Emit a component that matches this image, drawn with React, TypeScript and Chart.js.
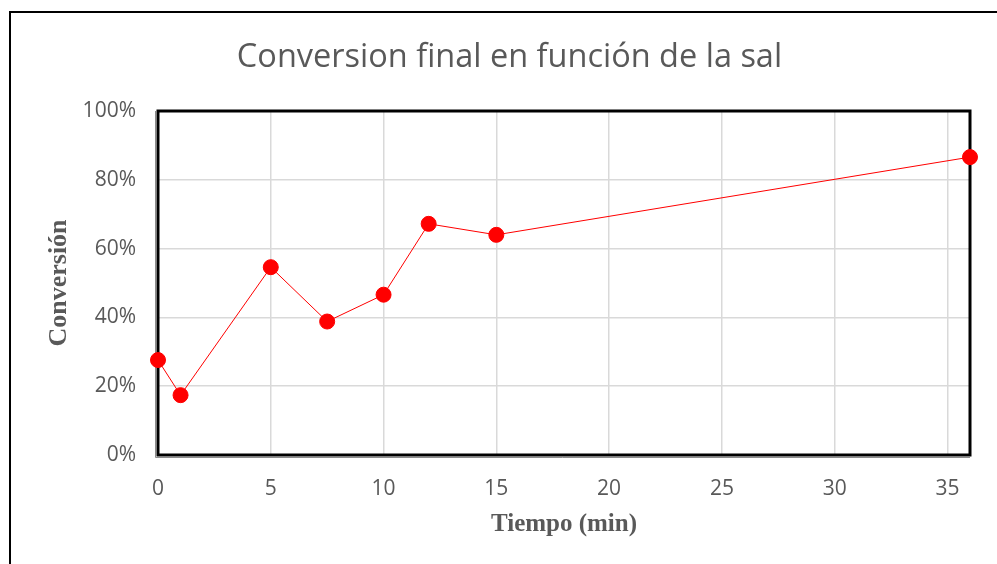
import React, { useEffect, useRef } from "react";
import { Chart, registerables } from "chart.js";

Chart.register(...registerables);

const TITLE = "Conversion final en función de la sal";
const X_TITLE = "Tiempo (min)";
const Y_TITLE = "Conversión";
const tiempo = [0, 1, 5, 7.5, 10, 12, 15, 36];
const conversion = [27.6, 17.4, 54.6, 38.8, 46.6, 67.2, 64.0, 86.6];
const X_MIN = 0;
const X_MAX = 36;
const X_STEP = 5;
const Y_MIN = 0;
const Y_MAX = 100;
const Y_STEP = 20;

const GRAY = "#595959";

const framePlugin = {
  id: "framePlugin",
  beforeDraw(chart: any) {
    const { ctx } = chart;
    ctx.save();
    ctx.fillStyle = "#ffffff";
    ctx.fillRect(0, 0, chart.width, chart.height);
    ctx.strokeStyle = "#000000";
    ctx.lineWidth = 2;
    ctx.beginPath();
    ctx.moveTo(10, chart.height + 5);
    ctx.lineTo(10, 12);
    ctx.lineTo(chart.width + 5, 12);
    ctx.stroke();
    ctx.restore();
  },
  beforeDatasetsDraw(chart: any) {
    const { ctx, chartArea: a } = chart;
    ctx.save();
    ctx.strokeStyle = "#8c8c8c";
    ctx.lineWidth = 1;
    ctx.beginPath();
    ctx.moveTo(a.left - 2.5, a.top);
    ctx.lineTo(a.left - 2.5, a.bottom + 2.5);
    ctx.lineTo(a.right, a.bottom + 2.5);
    ctx.stroke();
    ctx.strokeStyle = "#000000";
    ctx.lineWidth = 3;
    ctx.strokeRect(a.left, a.top, a.right - a.left, a.bottom - a.top);
    ctx.restore();
  },
};

export default function App() {
  const ref = useRef<HTMLCanvasElement | null>(null);

  useEffect(() => {
    if (!ref.current) return;
    const chart = new Chart(ref.current, {
      type: "scatter",
      data: {
        datasets: [
          {
            label: "Conversión",
            data: tiempo.map((t, i) => ({ x: t, y: conversion[i] })),
            showLine: true,
            clip: false,
            borderColor: "#ff0000",
            borderWidth: 1,
            backgroundColor: "#ff0000",
            pointBackgroundColor: "#ff0000",
            pointBorderColor: "#ff0000",
            pointRadius: 7.5,
            pointHoverRadius: 7.5,
            tension: 0,
          },
        ],
      },
      options: {
        animation: false,
        responsive: false,
        maintainAspectRatio: false,
        layout: { padding: { left: 49, right: 27, top: 0, bottom: 0 } },
        plugins: {
          legend: { display: false },
          tooltip: { enabled: false },
          title: {
            display: true,
            text: TITLE,
            color: GRAY,
            font: { family: "'Open Sans'", size: 32.5, weight: "normal", lineHeight: 1.2 },
            padding: { top: 38.5, bottom: 33.5 },
          },
        },
        scales: {
          x: {
            type: "linear",
            min: X_MIN,
            max: X_MAX,
            afterFit(scale: any) {
              scale.height = 109;
            },
            afterBuildTicks(scale: any) {
              const t = [];
              for (let v = X_MIN; v <= X_MAX; v += X_STEP) t.push({ value: v });
              scale.ticks = t;
            },
            ticks: {
              color: GRAY,
              font: { family: "'Open Sans'", size: 21 },
              padding: 21,
              maxRotation: 0,
            },
            grid: { color: "#d9d9d9", lineWidth: 1.5, drawTicks: false },
            border: { display: false },
            title: {
              display: true,
              text: X_TITLE,
              color: GRAY,
              font: { family: "'Liberation Serif'", size: 25, weight: "bold", lineHeight: 1 },
              padding: { top: 0, bottom: 27 },
            },
          },
          y: {
            type: "linear",
            min: Y_MIN,
            max: Y_MAX,
            afterFit(scale: any) {
              scale.width = 109;
            },
            ticks: {
              stepSize: Y_STEP,
              color: GRAY,
              font: { family: "'Open Sans'", size: 21 },
              padding: 22,
              callback: (v: any) => v + "%",
            },
            grid: { color: "#d9d9d9", lineWidth: 1.5, drawTicks: false },
            border: { display: false },
            title: {
              display: true,
              text: Y_TITLE,
              color: GRAY,
              font: { family: "'Liberation Serif'", size: 26, weight: "bold", lineHeight: 1 },
              padding: { top: -3, bottom: 0 },
            },
          },
        },
      },
      plugins: [framePlugin],
    });
    return () => chart.destroy();
  }, []);

  return (
    <div style={{ position: "fixed", left: 0, top: 0, width: 997, height: 564, overflow: "hidden", background: "#fff" }}>
      <canvas ref={ref} width={997} height={564} style={{ display: "block", width: 997, height: 564 }} />
    </div>
  );
}
